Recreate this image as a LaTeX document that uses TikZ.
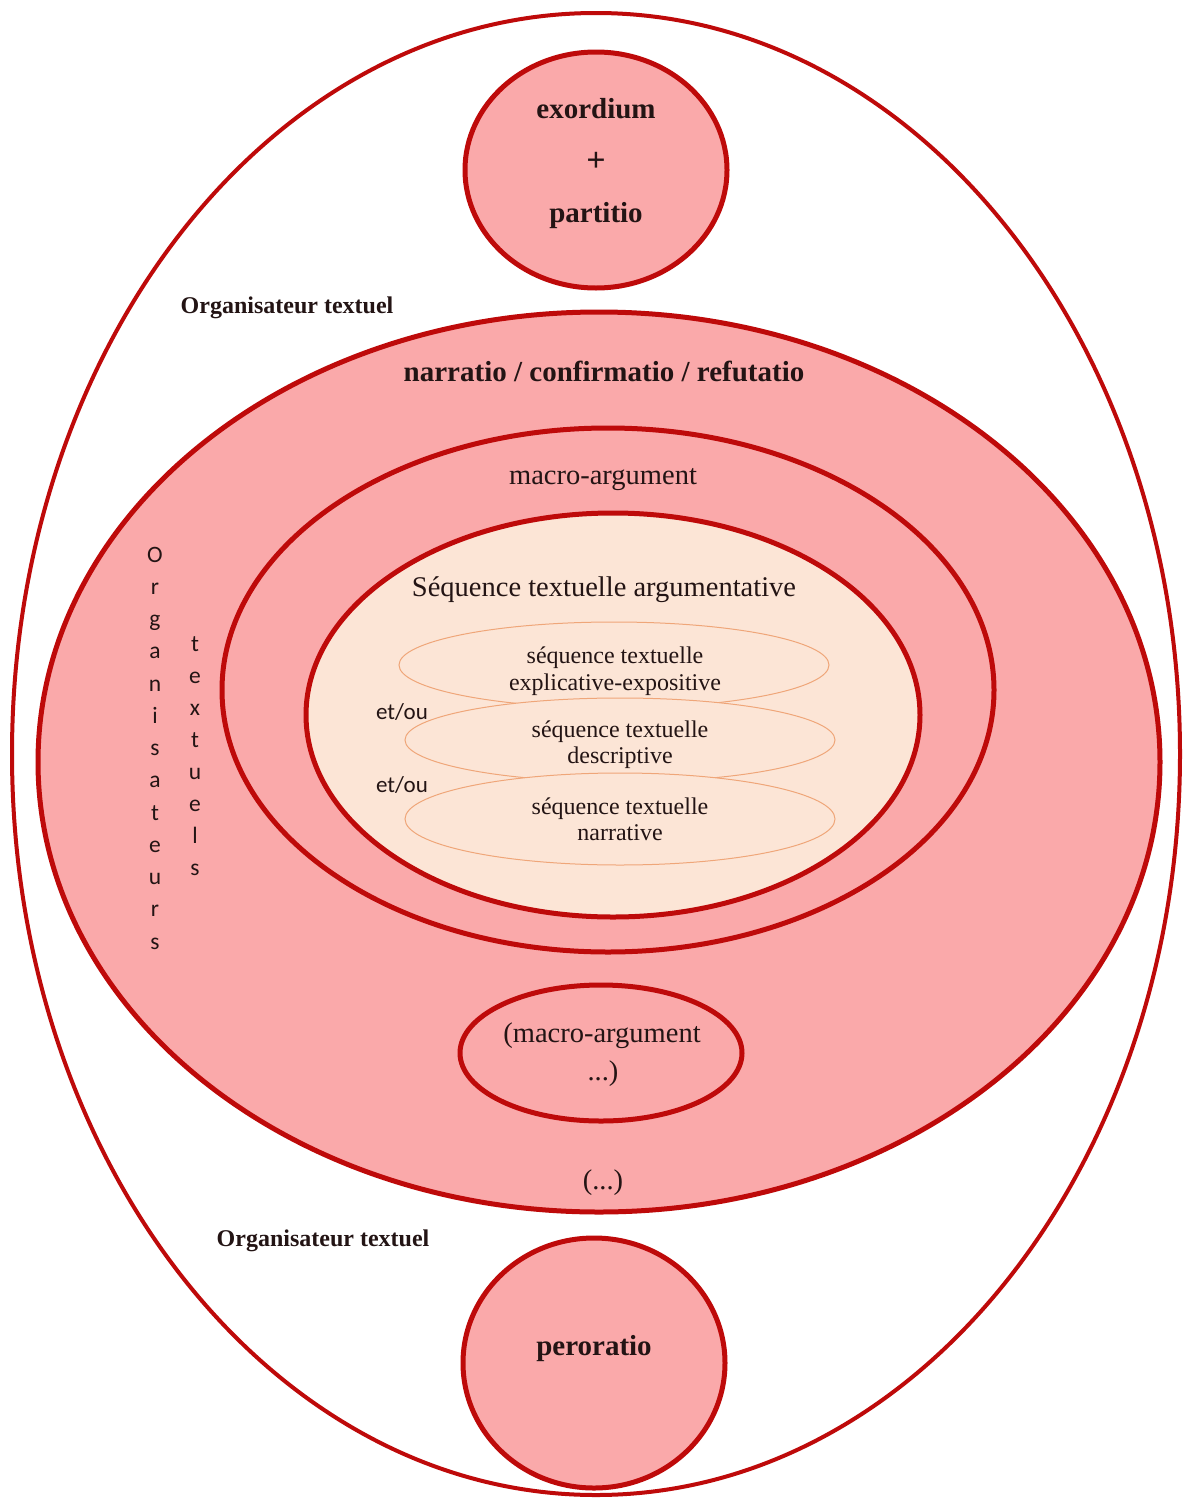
\documentclass[tikz,border=0pt]{standalone}
\usepackage{fontspec}
\setmainfont{Liberation Serif}
\newfontfamily\calibrifont{Carlito}
\usetikzlibrary{shapes.geometric}
\definecolor{redline}{HTML}{BE0A0A}
\definecolor{pinkfill}{HTML}{FAA9AA}
\definecolor{peach}{HTML}{FCE5D6}
\definecolor{peachline}{HTML}{EFA679}
\definecolor{txt}{HTML}{231414}
\begin{document}
\begin{tikzpicture}[x=1pt,y=-1pt,
  oval/.style={ellipse, draw=redline, line width=5pt, fill=pinkfill, inner sep=0pt},
  subseq/.style={ellipse, draw=peachline, line width=1pt, fill=peach, inner sep=0pt},
  lbl/.style={anchor=base, text=txt, inner sep=0pt},
  boldbig/.style={lbl, font=\fontsize{29}{32}\selectfont\bfseries},
  boldmid/.style={lbl, font=\fontsize{24}{28}\selectfont\bfseries},
  regbig/.style={lbl, font=\fontsize{28.5}{32}\selectfont},
  regsmall/.style={lbl, font=\fontsize{24}{27}\selectfont},
  calib/.style={lbl, font=\calibrifont\fontsize{23}{26}\selectfont},
  vletter/.style={lbl, font=\calibrifont\fontsize{23.5}{26}\selectfont}]
\useasboundingbox (0,0) rectangle (1192,1499);
\fill[white] (0,0) rectangle (1192,1499);
% shapes
\node[oval, fill=white, line width=4pt, minimum width=1168pt, minimum height=1482pt] (outer) at (596,754) {};
\node[oval, minimum width=262pt, minimum height=236pt] (exord) at (596,170) {};
\node[oval, minimum width=1122pt, minimum height=900pt] (narr) at (599,762) {};
\node[oval, minimum width=772pt, minimum height=524pt] (macro) at (608,690) {};
\node[oval, fill=peach, minimum width=614pt, minimum height=404pt] (seq) at (613,715) {};
\node[subseq, minimum width=430pt, minimum height=86pt] (s1) at (614,665) {};
\node[subseq, minimum width=430pt, minimum height=84pt] (s2) at (620,740) {};
\node[subseq, minimum width=430pt, minimum height=92pt] (s3) at (620,819) {};
\node[oval, minimum width=282pt, minimum height=136pt] (macrob) at (601,1053) {};
\node[oval, minimum width=262pt, minimum height=250pt] (peror) at (594,1363) {};
% texts
\node[boldbig] (t1) at (596,118) {exordium};
\node[boldbig, font=\fontsize{34}{36}\selectfont\bfseries] (t2) at (596,171) {+};
\node[boldbig] (t3) at (596,222) {partitio};
\node[boldmid] (org1) at (287,313) {Organisateur textuel};
\node[boldbig] (narrt) at (604,381) {narratio / confirmatio / refutatio};
\node[regbig] (macrot) at (603,484) {macro-argument};
\node[regbig] (seqt) at (604,596) {Séquence textuelle argumentative};
\node[regsmall] (s1a) at (615,663) {séquence textuelle};
\node[regsmall] (s1b) at (615,690) {explicative-expositive};
\node[regsmall] (s2a) at (620,737) {séquence textuelle};
\node[regsmall] (s2b) at (620,763) {descriptive};
\node[regsmall] (s3a) at (620,814) {séquence textuelle};
\node[regsmall] (s3b) at (620,840) {narrative};
\node[calib] (eo1) at (402,719) {et/ou};
\node[calib] (eo2) at (402,792) {et/ou};
\node[regbig] (mb1) at (602,1042) {(macro-argument};
\node[regbig] (mb2) at (603,1080) {...)};
\node[regbig] (dots) at (603,1189) {(...)};
\node[boldmid] (org2) at (323,1246) {Organisateur textuel};
\node[boldbig] (perot) at (594,1355) {peroratio};
% vertical letters
\foreach \c [count=\i] in {O,r,g,a,n,i,s,a,t,e,u,r,s}
  \node[vletter] (va\i) at (155,{562+32.25*(\i-1)}) {\c};
\foreach \c [count=\i] in {t,e,x,t,u,e,l,s}
  \node[vletter] (vb\i) at (195,{651+32.1*(\i-1)}) {\c};
\end{tikzpicture}
\end{document}
